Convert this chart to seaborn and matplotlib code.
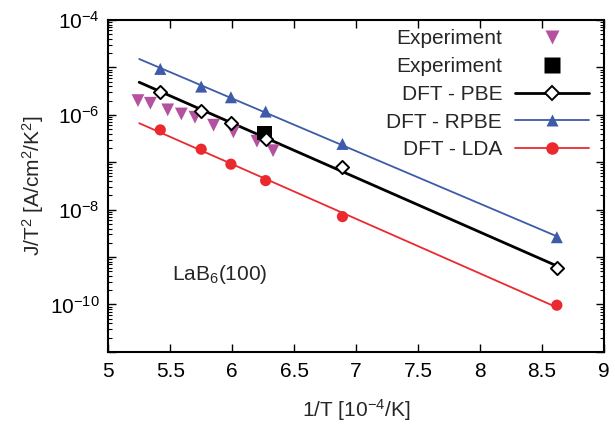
import numpy as np
import pandas as pd
import matplotlib
matplotlib.use("Agg")
import matplotlib.pyplot as plt
import matplotlib.ticker as mticker
from matplotlib.lines import Line2D
import seaborn as sns

# 1/T [10^-4 /K]
dft_x = [5.42, 5.75, 5.99, 6.27, 6.89, 8.62]
pbe_y = [2.99e-6, 1.22e-6, 6.84e-7, 3.14e-7, 7.83e-8, 6.0e-10]
rpbe_y = [9.27e-6, 3.93e-6, 2.34e-6, 1.17e-6, 2.43e-7, 2.62e-9]
lda_y = [4.80e-7, 1.88e-7, 9.08e-8, 4.09e-8, 7.13e-9, 9.66e-11]

exp_x = [5.24, 5.34, 5.48, 5.59, 5.70, 5.85, 6.01, 6.20, 6.33]
exp_y = [1.99e-6, 1.75e-6, 1.27e-6, 1.04e-6, 8.89e-7, 6.03e-7, 4.35e-7, 2.77e-7, 1.75e-7]

exp2_x = [6.26]
exp2_y = [4.09e-7]

fit_range = [5.25, 8.62]

C_EXP = "#b5529f"
C_PBE = "black"
C_RPBE = "#3d5ba9"
C_LDA = "#ea2a2f"
FS = 15

sns.set_theme(style="ticks")
plt.rcParams["font.family"] = ["Liberation Sans", "DejaVu Sans"]
plt.rcParams["mathtext.default"] = "regular"
plt.rcParams["font.size"] = FS

fig = plt.figure(figsize=(6.15, 4.24), dpi=100)
ax = fig.add_axes([0.176, 0.170, 0.806, 0.783])


def fit_line(xs, ys):
    k, b = np.polyfit(xs, np.log10(ys), 1)
    xx = np.array(fit_range)
    return xx, 10 ** (k * xx + b)


for ys, col, lw in [(pbe_y, C_PBE, 2.0), (rpbe_y, C_RPBE, 1.3), (lda_y, C_LDA, 1.3)]:
    xx, yy = fit_line(dft_x, ys)
    sns.lineplot(x=xx, y=yy, color=col, lw=lw, ax=ax, legend=False)

sns.scatterplot(x=exp_x, y=exp_y, marker="v", s=85, color=C_EXP, edgecolor="none", ax=ax, zorder=3)
sns.scatterplot(x=exp2_x, y=exp2_y, marker="s", s=110, color="black", edgecolor="none", ax=ax, zorder=3)
sns.scatterplot(x=dft_x, y=pbe_y, marker="D", s=45, color="white", edgecolor="black", linewidth=1.4, ax=ax, zorder=4)
sns.scatterplot(x=dft_x, y=rpbe_y, marker="^", s=75, color=C_RPBE, edgecolor="none", ax=ax, zorder=4)
sns.scatterplot(x=dft_x, y=lda_y, marker="o", s=65, color=C_LDA, edgecolor="none", ax=ax, zorder=4)

ax.set_yscale("log")
ax.set_xlim(5, 9)
ax.set_ylim(1e-11, 1e-4)
ax.xaxis.set_major_locator(mticker.MultipleLocator(0.5))
ax.xaxis.set_major_formatter(mticker.FuncFormatter(lambda v, _: f"{v:g}"))
ax.yaxis.set_major_locator(mticker.LogLocator(base=10, numticks=20))
ax.yaxis.set_minor_locator(mticker.LogLocator(base=10, subs=np.arange(2, 10), numticks=20))
ax.yaxis.set_minor_formatter(mticker.NullFormatter())


def ylab(v, _):
    e = int(round(np.log10(v)))
    return f"$10^{{{e}}}$" if e % 2 == 0 else ""


ax.yaxis.set_major_formatter(mticker.FuncFormatter(ylab))
ax.tick_params(which="both", direction="in", top=True, right=True, colors="black", labelsize=FS)
ax.tick_params(which="major", length=6, width=1.0)
ax.tick_params(which="minor", length=3, width=0.8)
ax.tick_params(axis="x", which="major", pad=7)
ax.tick_params(axis="y", which="major", pad=6)
for sp in ax.spines.values():
    sp.set_linewidth(1.5)
    sp.set_color("black")

ax.set_xlabel("1/T [10$^{-4}$/K]", fontsize=FS, labelpad=12)
ax.set_ylabel("J/T$^2$ [A/cm$^2$/K$^2$]", fontsize=FS, labelpad=3)

ax.text(0.128, 0.232, "LaB$_6$(100)", transform=ax.transAxes, fontsize=FS, ha="left", va="center")

handles = [
    Line2D([], [], ls="none", marker="v", ms=10, color=C_EXP, mec="none"),
    Line2D([], [], ls="none", marker="s", ms=11, color="black", mec="none"),
    Line2D([], [], color=C_PBE, lw=2.0, marker="D", ms=7, mfc="white", mec="black", mew=1.4),
    Line2D([], [], color=C_RPBE, lw=1.3, marker="^", ms=9, mec="none"),
    Line2D([], [], color=C_LDA, lw=1.3, marker="o", ms=9, mec="none"),
]
labels = ["Experiment", "Experiment", "DFT - PBE", "DFT - RPBE", "DFT - LDA"]
ax.legend(handles, labels, loc="upper right", bbox_to_anchor=(0.988, 1.0), frameon=False,
          markerfirst=False, handlelength=3.55, labelspacing=0.42, fontsize=FS,
          handletextpad=0.6, borderaxespad=0.0, borderpad=0.45)

fig.savefig("out.png", dpi=100)
